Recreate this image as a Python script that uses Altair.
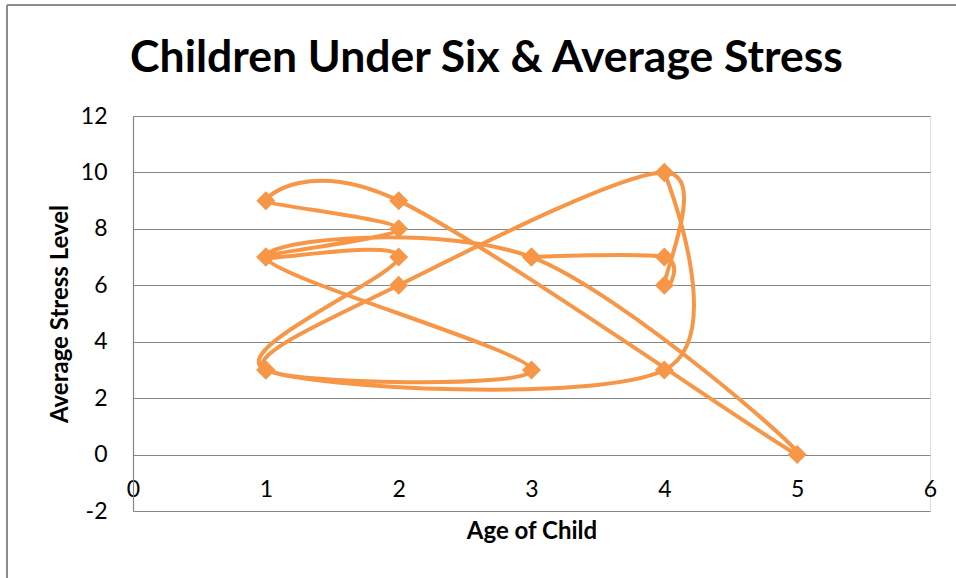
import altair as alt
import pandas as pd

# Data points in series order (Excel scatter with smoothed lines)
age_of_child = [4, 4, 1, 2, 1, 2, 1, 2, 5, 3, 1, 3, 1, 2, 4, 4, 4, 3]
stress_level = [10, 3, 3, 7, 7, 8, 9, 9, 0, 7, 7, 3, 3, 6, 10, 6, 7, 7]

x_ticks = [0, 1, 2, 3, 4, 5, 6]
y_ticks = [-2, 0, 2, 4, 6, 8, 10, 12]

df = pd.DataFrame({
    "idx": list(range(len(age_of_child))),
    "age": age_of_child,
    "stress": stress_level,
})

ORANGE = "#F79646"
GRID = "#868686"
FONT = "Lato"

W, H = 797, 395
PAD_L, PAD_T = 133, 116

x_enc = alt.X(
    "age:Q",
    scale=alt.Scale(domain=[0, 6], nice=False, zero=False),
    axis=alt.Axis(
        title="Age of Child",
        values=x_ticks,
        labelExpr="'' + datum.value",
        labelFlush=False,
        labelOverlap=False,
        grid=False,
        domain=False,
        ticks=False,
        tickSize=0,
        labelPadding=-22,
        labelBaseline="middle",
        labelFontSize=23,
        labelFont=FONT,
        labelColor="#000000",
        titleFont=FONT,
        titleFontSize=24,
        titleFontWeight="bold",
        titleColor="#000000",
        titleY=20,
        titleBaseline="middle",
    ),
)
y_enc = alt.Y(
    "stress:Q",
    scale=alt.Scale(domain=[-2, 12], nice=False, zero=False),
    axis=alt.Axis(
        title="Average Stress Level",
        values=y_ticks,
        labelExpr="'' + datum.value",
        labelOverlap=False,
        grid=True,
        gridColor=GRID,
        gridWidth=1.2,
        domain=True,
        domainColor=GRID,
        domainWidth=1.2,
        ticks=False,
        tickSize=0,
        labelPadding=26,
        labelFontSize=23,
        labelFont=FONT,
        labelColor="#000000",
        titleFont=FONT,
        titleFontSize=24,
        titleFontWeight="bold",
        titleColor="#000000",
        titleX=-73,
        titleBaseline="middle",
    ),
)

base = alt.Chart(df)

line = base.mark_line(
    interpolate="cardinal", strokeWidth=4, color=ORANGE
).encode(x=x_enc, y=y_enc, order=alt.Order("idx:Q"))

points = base.mark_point(
    shape="diamond", filled=True, size=360, opacity=1, color=ORANGE
).encode(x="age:Q", y="stress:Q")

frame_left = alt.Chart(df).mark_rule(color="#8c8c8c", strokeWidth=1.5).encode(
    x=alt.value(7 - PAD_L), y=alt.value(5 - PAD_T), y2=alt.value(600 - PAD_T)
)
frame_top = alt.Chart(df).mark_rule(color="#8c8c8c", strokeWidth=1.5).encode(
    x=alt.value(7 - PAD_L), x2=alt.value(980 - PAD_L), y=alt.value(5 - PAD_T)
)

chart = (
    alt.layer(frame_left, frame_top, line, points)
    .properties(
        width=W,
        height=H,
        title=alt.TitleParams(
            text="Children Under Six & Average Stress",
            font=FONT,
            fontSize=44.5,
            fontWeight="bold",
            color="#000000",
            anchor="middle",
            frame="group",
            baseline="alphabetic",
            offset=-112,
            dx=-45,
        ),
        autosize=alt.AutoSizeParams(type="none"),
        padding={"left": PAD_L, "top": PAD_T, "right": 956 - PAD_L - W, "bottom": 578 - PAD_T - H},
    )
    .configure_view(stroke=None)
    .configure(background="#ffffff")
)

chart.save("out.html", embed_options={"renderer": "svg", "actions": False})
